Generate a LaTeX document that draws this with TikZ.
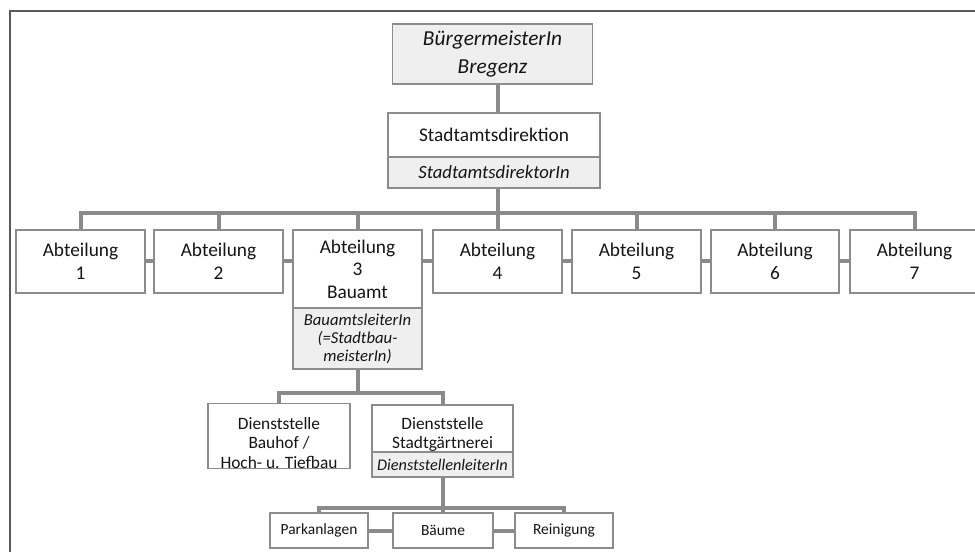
\documentclass[tikz,border=0pt]{standalone}
\usepackage{fontspec}
\setmainfont{Carlito}
\definecolor{boxline}{HTML}{8C8C8C}
\definecolor{boxfill}{HTML}{EFEFEF}
\definecolor{connline}{HTML}{8A8A8A}
\definecolor{frameline}{HTML}{5A5A5A}
\definecolor{ink}{HTML}{151515}
\begin{document}
\begin{tikzpicture}[x=0.75pt,y=-0.75pt,
  wd/.style={minimum width=#1*0.75pt},
  ht/.style={minimum height=#1*0.75pt},
  box/.style={draw=boxline,line width=0.9pt,fill=white,inner sep=0pt,outer sep=0pt,
              align=center,text=ink},
  rolebox/.style={box,fill=boxfill},
  big/.style={font=\fontsize{14.5}{16.9}\selectfont},
  mid/.style={font=\fontsize{13}{14.6}\selectfont},
  small/.style={font=\fontsize{11.6}{13}\selectfont},
  conn/.style={draw=connline,line width=3pt},
]
\useasboundingbox (0,0) rectangle (975,552);
\clip (0,0) rectangle (975,552);

% outer frame
\draw[frameline,line width=1.5pt] (9.5,552) -- (9.5,11.5) -- (975,11.5);

% bus levels
\coordinate (busA) at (0,213);
\coordinate (busB) at (0,393);
\coordinate (busC) at (0,508);

% head of the administration
\node[rolebox,wd=200,ht=60,font=\itshape\fontsize{16}{20.5}\selectfont] (mayor) at (492.5,54) {BürgermeisterIn\\Bregenz};
\node[box,big,wd=212,ht=44] (dir) at (494,135) {Stadtamtsdirektion};
\node[rolebox,wd=212,ht=31,font=\itshape\fontsize{14}{16}\selectfont] (dirl) at (494,172.5) {StadtamtsdirektorIn};

% departments
\node[box,big,wd=129,ht=63] (a1) at (80.5,261.5) {Abteilung\\1};
\node[box,big,wd=129,ht=63] (a2) at (218.5,261.5) {Abteilung\\2};
\node[box,big,wd=129,ht=78] (a3) at (357.5,269) {Abteilung\\3\\Bauamt};
\node[rolebox,wd=129,ht=61,font=\itshape\fontsize{12.5}{13.5}\selectfont] (a3l) at (357.5,338.5) {BauamtsleiterIn\\(=Stadtbau-\\meisterIn)};
\node[box,big,wd=129,ht=63] (a4) at (497.5,261.5) {Abteilung\\4};
\node[box,big,wd=129,ht=63] (a5) at (636.5,261.5) {Abteilung\\5};
\node[box,big,wd=128,ht=63] (a6) at (775,261.5) {Abteilung\\6};
\node[box,big,wd=129,ht=63] (a7) at (914.5,261.5) {Abteilung\\7};

% service units of the building department
\node[box,mid,wd=142,ht=62] (d1) at (279,436) {\rule{0pt}{19pt}Dienststelle\\Bauhof /\\Hoch- u. Tiefbau};
\node[box,mid,wd=141,ht=47] (d2) at (442.5,428.5) {\rule{0pt}{18pt}Dienststelle\\Stadtgärtnerei};
\node[rolebox,wd=141,ht=25,font=\itshape\fontsize{12.2}{14}\selectfont] (d2l) at (442.5,464.5) {DienststellenleiterIn};

% sections of the city gardens
\node[box,small,wd=98,ht=35] (p1) at (319,530.5) {Parkanlagen};
\node[box,small,wd=100,ht=35] (p2) at (443,530.5) {Bäume};
\node[box,small,wd=98,ht=35] (p3) at (564,530.5) {Reinigung};

% vertical chain at the top
\draw[conn] (mayor.south -| a4.north) -- (dir.north -| a4.north);
\draw[conn] (dirl.south -| a4.north) -- (busA -| a4.north);

% department bus
\draw[conn,line join=miter] (a1.north) |- (busA -| a7.north) -- (a7.north);
\foreach \n in {a2,a3,a4,a5,a6} \draw[conn] (\n.north) -- (busA -| \n.north);
\draw[conn] (a1.east) -- (a2.west);
\draw[conn] (a2.east) -- (a2.east -| a3.west);
\draw[conn] (a4.west -| a3.east) -- (a4.west);
\draw[conn] (a4.east) -- (a5.west);
\draw[conn] (a5.east) -- (a6.west);
\draw[conn] (a6.east) -- (a7.west);

% service unit bus
\draw[conn] (a3l.south) -- (busB -| a3l.south);
\draw[conn,line join=miter] (d1.north) |- (busB -| d2.north) -- (d2.north);

% section bus
\draw[conn] (d2l.south) -- (busC -| d2l.south);
\draw[conn,line join=miter] (p1.north) |- (busC -| p3.north) -- (p3.north);
\draw[conn] (p2.north) -- (busC -| p2.north);
\draw[conn] (p1.east) -- (p2.west);
\draw[conn] (p2.east) -- (p3.west);
\end{tikzpicture}
\end{document}
